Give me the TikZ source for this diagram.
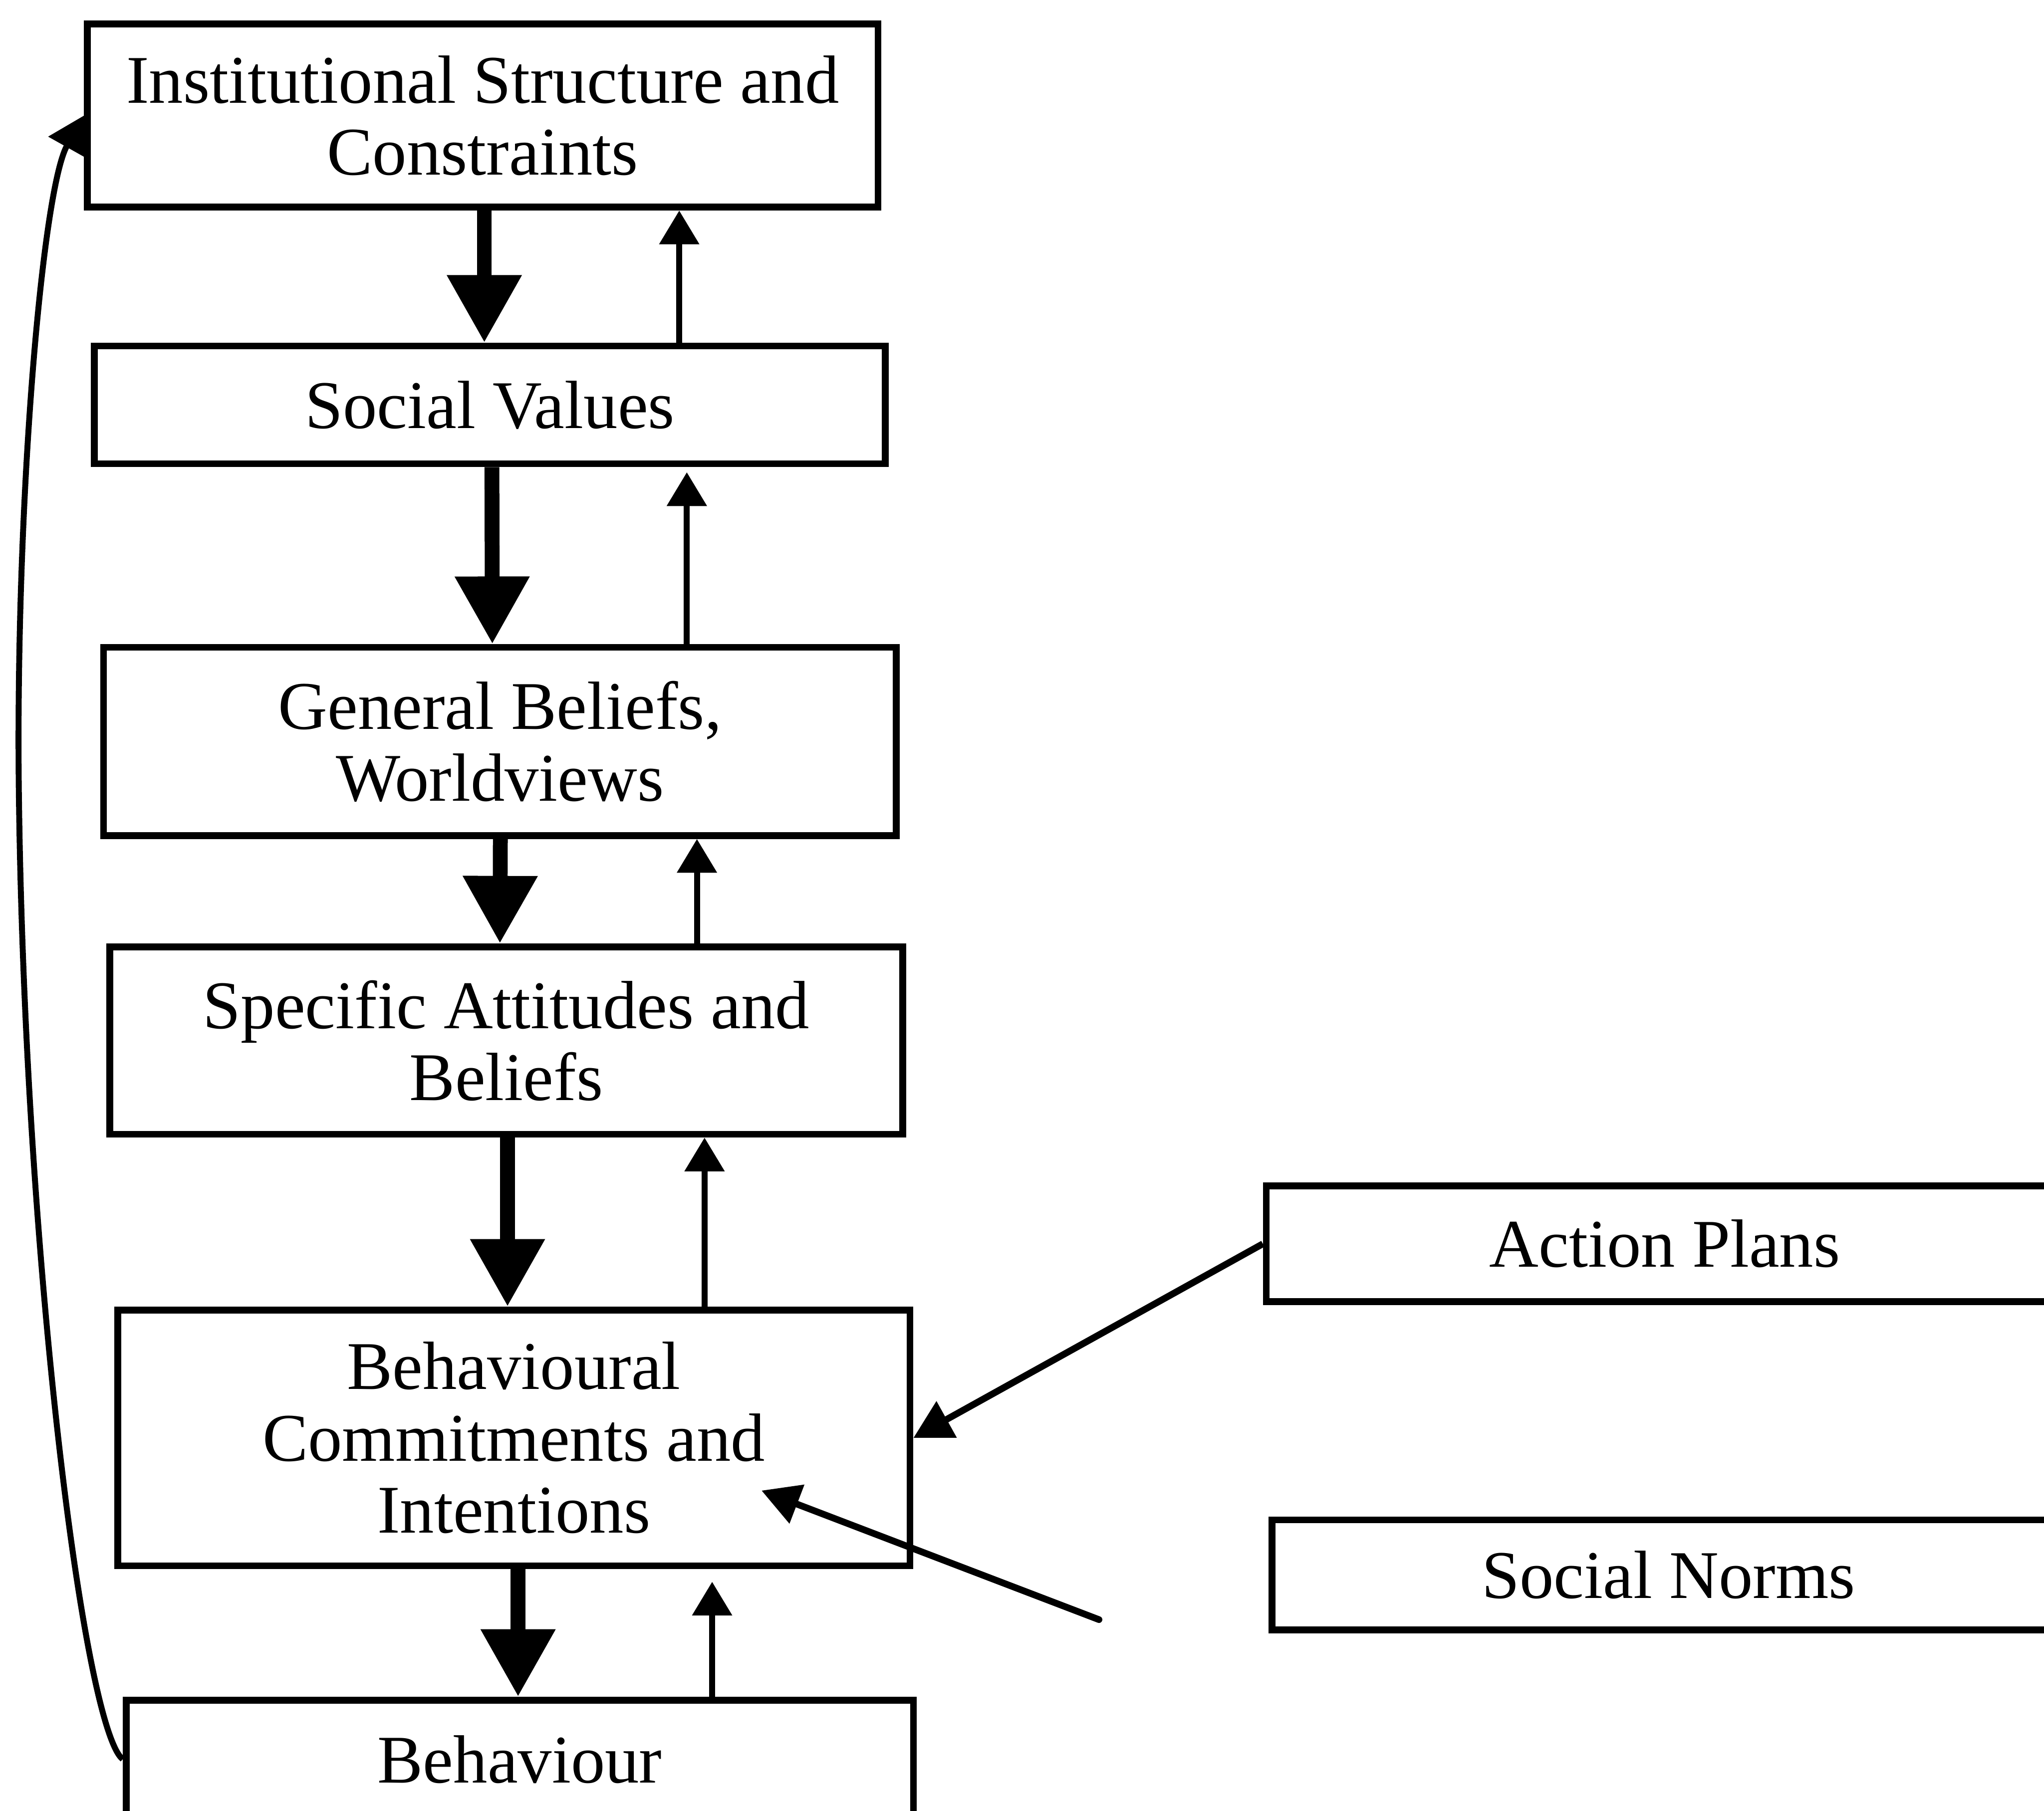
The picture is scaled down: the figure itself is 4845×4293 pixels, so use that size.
\documentclass[tikz,border=0pt]{standalone}
\usepackage{fontspec}
\setmainfont{Liberation Serif}
\usetikzlibrary{arrows.meta,calc}

\begin{document}
\begin{tikzpicture}[x=0.01cm,y=-0.01cm,
  stage/.style={draw,line width=4.6pt,rectangle,inner sep=0pt,align=center,
    font=\fontsize{46}{48.4}\selectfont},
  thickarrow/.style={line width=10pt,-{Triangle[length=1.6cm,width=1.68cm]}},
  thinarrow/.style={line width=4pt,-{Triangle[length=0.8cm,width=0.92cm]}},
  linkarrow/.style={line width=4.5pt,-{Triangle[length=0.9cm,width=0.95cm]}},
  feedback/.style={line width=4pt,-{Triangle[length=0.85cm,width=0.95cm]}},
]
\useasboundingbox (0,0) rectangle (4845,4293);

% main chain of stages
\node[stage,minimum width=18.73cm,minimum height=4.34cm] (inst) at (1144,274)
  {Institutional Structure and\\Constraints};
\node[stage,minimum width=18.74cm,minimum height=2.79cm] (sv) at (1161,960)
  {Social Values};
\node[stage,minimum width=18.78cm,minimum height=4.46cm] (gb) at (1185,1758)
  {General Beliefs,\\Worldviews};
\node[stage,minimum width=18.78cm,minimum height=4.44cm] (sa) at (1200,2467)
  {Specific Attitudes and\\Beliefs};
\node[stage,minimum width=18.77cm,minimum height=6.06cm] (bc) at (1218,3409)
  {Behavioural\\Commitments and\\Intentions};
\node[stage,minimum width=18.65cm,minimum height=2.80cm] (beh) at (1232,4171)
  {Behaviour};

% side inputs
\node[stage,minimum width=18.88cm,minimum height=2.74cm] (ap) at (3946,2949)
  {Action Plans};
\node[stage,minimum width=18.78cm,minimum height=2.61cm] (sn) at (3955,3734)
  {Social Norms};

% downward influence
\draw[thickarrow] ($(inst.south)+(4,0)$) -- ($(sv.north)+(-13,0)$);
\draw[thickarrow] ($(sv.south)+(5,0)$) -- ($(gb.north)+(-18,0)$);
\draw[thickarrow] ($(gb.south)+(1,0)$) -- ($(sa.north)+(-15,0)$);
\draw[thickarrow] ($(sa.south)+(3,0)$) -- ($(bc.north)+(-15,0)$);
\draw[thickarrow] ($(bc.south)+(10,0)$) -- ($(beh.north)+(-4,0)$);

% upward feedback between neighbours
\draw[thinarrow] ($(sv.north)+(449,0)$) -- ($(inst.south)+(466,0)$);
\draw[thinarrow] ($(gb.north)+(443,0)$) -- ($(sv.south)+(467,12)$);
\draw[thinarrow] ($(sa.north)+(452,0)$) -- ($(gb.south)+(467,0)$);
\draw[thinarrow] ($(bc.north)+(452,0)$) -- ($(sa.south)+(470,0)$);
\draw[thinarrow] ($(beh.north)+(456,0)$) -- ($(bc.south)+(470,30)$);

% external links into commitments
\draw[linkarrow] (ap.west) -- (bc.east);
\coordinate (snfree) at (2605,3840);
\draw[linkarrow,line cap=round] (snfree) -- ($(bc.center)+(587,125)$);

% long loop from behaviour back to institutions
\draw[feedback] (beh.west) .. controls (200,4100) and (60,3000) .. (45,1900)
  .. controls (35,1200) and (100,450) .. (inst.west);
\end{tikzpicture}
\end{document}
